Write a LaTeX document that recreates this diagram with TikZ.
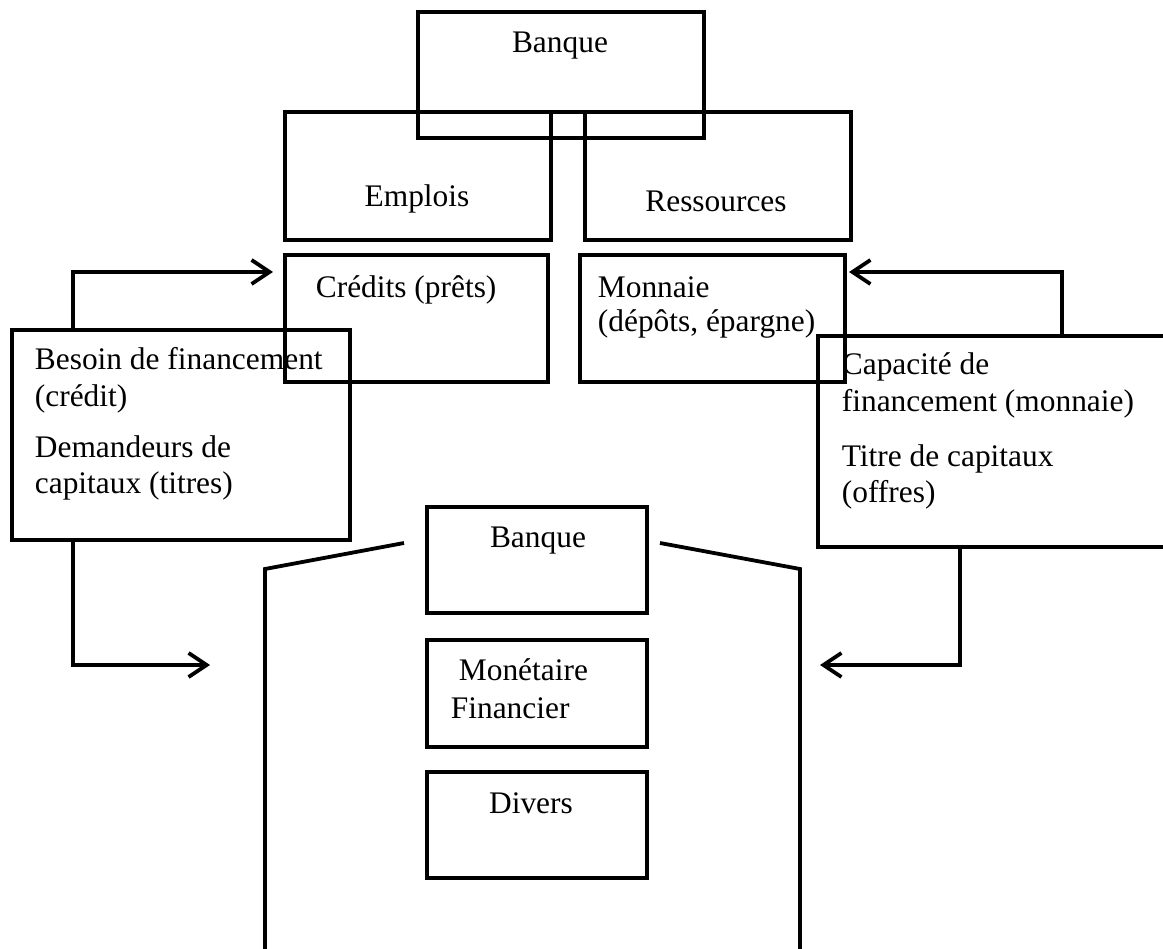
\documentclass[tikz,border=0pt]{standalone}
\usepackage{fontspec}
\setmainfont{Liberation Serif}
\usetikzlibrary{arrows.meta}
\begin{document}
\begin{tikzpicture}[x=1pt,y=-1pt,
  line width=3.8pt,
  box/.style={draw, rectangle, inner sep=0pt, outer sep=0pt, anchor=north west},
  txt/.style={inner sep=0pt, font=\fontsize{31.4}{33}\selectfont},
  arr/.style={-{Straight Barb[length=18pt,width=24pt]}},
]
\clip (0,0) rectangle (1163,949);
% boxes
\node[box, minimum width=286pt, minimum height=126pt] (bank) at (418,12) {};
\node[box, minimum width=266pt, minimum height=128pt] (emp) at (285,112) {};
\node[box, minimum width=266pt, minimum height=128pt] (res) at (585,112) {};
\draw (emp.north east) -- (res.north west);
\node[box, minimum width=263pt, minimum height=127pt] (cred) at (285,255) {};
\node[box, minimum width=265pt, minimum height=127pt] (monn) at (580,255) {};
\node[box, minimum width=338pt, minimum height=210pt] (bes) at (12,330) {};
\node[box, minimum width=400pt, minimum height=211pt] (cap) at (818,336) {};
\node[box, minimum width=220pt, minimum height=106pt] (bank2) at (427,507) {};
\node[box, minimum width=220pt, minimum height=107pt] (mon2) at (427,640) {};
\node[box, minimum width=220pt, minimum height=106pt] (div) at (427,772) {};
% texts
\node[txt, anchor=base] (tbank) at (560,53) {Banque};
\node[txt, anchor=base] (temp) at (417,207) {Emplois};
\node[txt, anchor=base] (tres) at (716,212) {Ressources};
\node[txt, anchor=base west] (tcred) at (314,298) {Crédits (prêts)};
\node[txt, anchor=base west] (tmonnA) at (596,298) {Monnaie};
\node[txt, anchor=base west] (tmonnB) at (596,332) {(dépôts, épargne)};
\node[txt, anchor=base west] (tbesA) at (33,370) {Besoin de financement};
\node[txt, anchor=base west] (tbesB) at (33,407) {(crédit)};
\node[txt, anchor=base west] (tbesC) at (33,458) {Demandeurs de};
\node[txt, anchor=base west] (tbesD) at (33,494) {capitaux (titres)};
\node[txt, anchor=base west] (tcapA) at (840,375) {Capacité de};
\node[txt, anchor=base west] (tcapB) at (840,412) {financement (monnaie)};
\node[txt, anchor=base west] (tcapC) at (840,467) {Titre de capitaux};
\node[txt, anchor=base west] (tcapD) at (840,503) {(offres)};
\node[txt, anchor=base] (tbank2) at (538,548) {Banque};
\node[txt, anchor=base west] (tmonA) at (457,680) {Monétaire};
\node[txt, anchor=base west] (tmonB) at (449,718) {Financier};
\node[txt, anchor=base] (tdiv) at (531,813) {Divers};
% connectors
\coordinate (a1) at (73,272);
\coordinate (a2) at (1062,272);
\coordinate (b1) at (73,665);
\coordinate (b1end) at (210,665);
\coordinate (b2) at (960,665);
\coordinate (b2end) at (820,665);
\draw[arr] (a1 |- bes.north) -- (a1) -- ([xshift=-12pt]cred.west |- a1);
\draw[arr] (a2 |- cap.north) -- (a2) -- ([xshift=4pt]monn.east |- a2);
\draw[arr] (b1 |- bes.south) -- (b1) -- (b1end);
\draw[arr] (b2 |- cap.south) -- (b2) -- (b2end);
% hall walls
\coordinate (wl1) at (404,543);
\coordinate (wl2) at (265,569);
\coordinate (wl3) at (265,960);
\coordinate (wr1) at (660,543);
\coordinate (wr2) at (800,569);
\coordinate (wr3) at (800,960);
\draw (wl1) -- (wl2) -- (wl3);
\draw (wr1) -- (wr2) -- (wr3);
\end{tikzpicture}
\end{document}
